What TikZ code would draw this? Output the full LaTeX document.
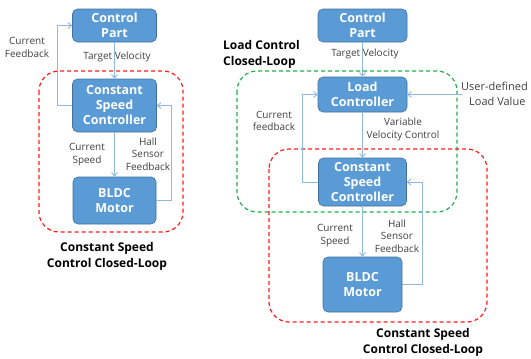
\documentclass[tikz,border=0pt]{standalone}
\usepackage{fontspec}
\setmainfont{Open Sans}
\usetikzlibrary{arrows.meta}
\definecolor{boxfill}{HTML}{5B9BD5}
\definecolor{boxline}{HTML}{41719C}
\definecolor{wire}{HTML}{8FB8E3}
\definecolor{lbl}{HTML}{404040}
\definecolor{loopred}{HTML}{FF1A1A}
\definecolor{loopgreen}{HTML}{1DB04A}
\tikzset{
  block/.style={draw=boxline, line width=0.6pt, fill=boxfill, rounded corners=5pt,
    text=white, font=\fontsize{12.5}{15}\selectfont\bfseries, align=center, inner sep=0pt},
  arr/.style={draw=wire, line width=0.9pt, -{Straight Barb[length=3.5pt,width=6pt]}},
  note/.style={text=lbl, font=\fontsize{10}{12.5}\selectfont, align=center, inner sep=0pt},
  looplabel/.style={text=black, font=\fontsize{12}{16}\selectfont\bfseries, align=center, inner sep=0pt},
  redloop/.style={draw=loopred, line width=1.2pt, dash pattern=on 4pt off 3pt, rounded corners=20pt},
  greenloop/.style={draw=loopgreen, line width=1.2pt, dash pattern=on 4pt off 3pt, rounded corners=20pt},
}
\begin{document}
\begin{tikzpicture}[x=1pt, y=-1pt]
\useasboundingbox (0,0) rectangle (531,359);

% ---- single loop: constant speed control ----
\draw[redloop] (39,71) rectangle (183,232);
\node[block, minimum width=84pt, minimum height=33pt] (cp1) at (114.5,25.5) {Control\\Part};
\node[block, minimum width=84pt, minimum height=53pt] (csc1) at (114.5,105.5) {Constant\\Speed\\Controller};
\node[block, minimum width=83pt, minimum height=47pt] (bldc1) at (114.5,200.5) {BLDC\\Motor};

\draw[arr] (cp1.south) -- (csc1.north);
\draw[arr] (csc1.south) -- (bldc1.north);
\draw[arr] (csc1.west) -- ++(-15,0) |- (cp1.west);
\draw[arr] (bldc1.east) -- ++(15,0) |- (csc1.east);

\node[note] (tv1) at (117,57) {Target Velocity};
\node[note] (cf1) at (27,47.5) {Current\\Feedback};
\node[note] (cs1) at (87,154.5) {Current\\Speed};
\node[note] (hs1) at (148,154) {Hall\\Sensor\\Feedback};
\node[looplabel] (ll1) at (107,256) {Constant Speed\\Control Closed-Loop};

% ---- nested loops: load control around constant speed control ----
\draw[greenloop] (237,71) rectangle (457,212);
\draw[redloop] (269,149) rectangle (487,322);
\node[block, minimum width=89pt, minimum height=33pt] (cp2) at (362.5,25.5) {Control\\Part};
\node[block, minimum width=89pt, minimum height=35pt] (lc) at (362.5,94.5) {Load\\Controller};
\node[block, minimum width=88pt, minimum height=48pt] (csc2) at (362.5,182) {Constant\\Speed\\Controller};
\node[block, minimum width=79pt, minimum height=55pt] (bldc2) at (362.5,284.5) {BLDC\\Motor};

\coordinate (ud) at (462,94.5);
\draw[arr] (cp2.south) -- (lc.north);
\draw[arr] (lc.south) -- (csc2.north);
\draw[arr] (csc2.south) -- (bldc2.north);
\draw[arr] (ud) -- (lc.east);
\draw[arr] (csc2.west) -- ++(-16,0) |- (lc.west);
\draw[arr] (bldc2.east) -- ++(20,0) |- (csc2.east);

\node[looplabel, align=left, anchor=west] (ll2) at (223,54) {Load Control\\Closed-Loop};
\node[note] (tv2) at (365,54) {Target Velocity};
\node[note, font=\fontsize{11}{15}\selectfont, anchor=west] (udl) at (461,93.5) {User-defined\\\ \ Load Value};
\node[note] (cf2) at (274,121) {Current\\feedback};
\node[note] (vv) at (403,129.5) {Variable\\Velocity Control};
\node[note] (cs2) at (335,235.5) {Current\\Speed};
\node[note] (hs2) at (397,236) {Hall\\Sensor\\Feedback};
\node[looplabel] (ll3) at (423,342.5) {Constant Speed\\Control Closed-Loop};
\end{tikzpicture}
\end{document}
